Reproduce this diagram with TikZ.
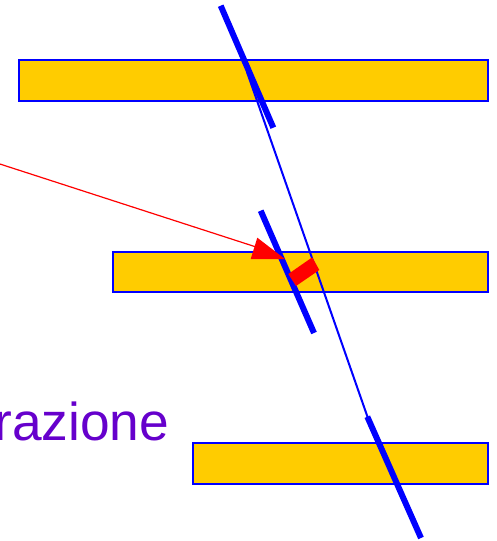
\documentclass[tikz,border=0pt]{standalone}
\usepackage{fontspec}
\setmainfont{Liberation Sans}
\definecolor{barfill}{RGB}{255,204,0}
\definecolor{barline}{RGB}{0,0,255}
\definecolor{labelpurple}{RGB}{102,0,204}
\definecolor{rayred}{RGB}{255,0,0}
\begin{document}
\begin{tikzpicture}[x=1pt,y=-1pt,
  bar/.style={draw=barline,fill=barfill,line width=1.8pt},
  thickline/.style={draw=barline,line width=6pt},
  thinline/.style={draw=barline,line width=2pt},
  ray/.style={draw=rayred,line width=1.2pt}]
\useasboundingbox (0,0) rectangle (497,541);
\clip (0,0) rectangle (497,541);
\path[bar] (19,60) rectangle (488,101);
\path[bar] (113,252) rectangle (488,292);
\path[bar] (193,443) rectangle (488,484);
\coordinate (t1a) at (220.7,5.7);
\coordinate (t1b) at (273.3,127.7);
\coordinate (t2a) at (260.7,210.7);
\coordinate (t2b) at (314,333);
\coordinate (t3a) at (367.3,416.7);
\coordinate (t3b) at (421,538);
\coordinate (sa) at (247,72);
\coordinate (sb) at (370,424);
\coordinate (ra) at (-2,163.4);
\coordinate (rb) at (258,247.6);
\path[thinline] (sa) -- (sb);
\path[thickline] (t1a) -- (t1b);
\path[thickline] (t2a) -- (t2b);
\path[thickline] (t3a) -- (t3b);
\path[ray] (ra) -- (rb);
\fill[rayred] (257.3,237.7) -- (285,259) -- (250.7,259) -- cycle;
\fill[rayred] (288.3,274) -- (312.3,257.3) -- (319.3,270) -- (296,286) -- cycle;
\node[anchor=base east,inner sep=0pt,text=labelpurple,font=\fontsize{53.3}{53.3}\selectfont] (lbl) at (169.5,440) {razione};
\end{tikzpicture}
\end{document}
